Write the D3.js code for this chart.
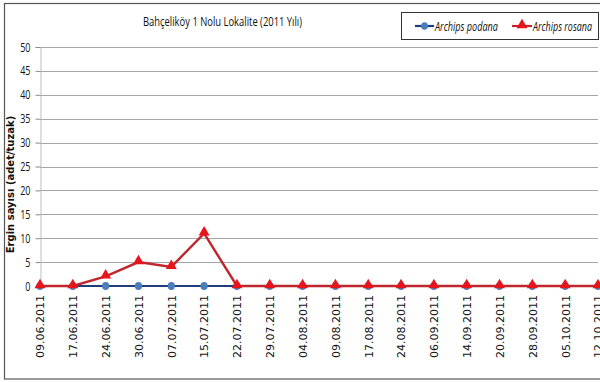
<!DOCTYPE html>
<html>
<head>
<meta charset="utf-8">
<script src="https://cdn.jsdelivr.net/npm/d3@7"></script>
<style>
  html, body { margin: 0; padding: 0; background: #fff; }
  svg { display: block; }
</style>
</head>
<body>
<svg id="chart" width="600" height="382"></svg>
<script>
// Sampling dates (trap checks) for the 2011 season
const dates = ["09.06.2011","17.06.2011","24.06.2011","30.06.2011","07.07.2011","15.07.2011",
  "22.07.2011","29.07.2011","04.08.2011","09.08.2011","17.08.2011","24.08.2011",
  "06.09.2011","14.09.2011","20.09.2011","28.09.2011","05.10.2011","12.10.2011"];
// Adult counts per trap
const podana = [0,0,0,0,0,0,0,0,0,0,0,0,0,0,0,0,0,0];
const rosana = [0,0,2,5,4,11,0,0,0,0,0,0,0,0,0,0,0,0];
const yTicks = [0,5,10,15,20,25,30,35,40,45,50];
const seriesNames = ["Archips podana", "Archips rosana"];

const svg = d3.select("#chart");
const plot = { left: 40, right: 598, top: 47, bottom: 286 };
const sans = "'Open Sans', 'DejaVu Sans', sans-serif";

// outer chart frame
svg.append("rect").attr("x", 4.5).attr("y", 3.5).attr("width", 620).attr("height", 375.5)
  .attr("fill", "#fff").attr("stroke", "#555").attr("stroke-width", 1.2);

const x = d3.scalePoint().domain(dates).range([plot.left, plot.right]).padding(0);
const y = d3.scaleLinear().domain([0, 50]).range([plot.bottom, plot.top]);

// horizontal gridlines
svg.append("g").selectAll("line").data(yTicks.filter(d => d > 0)).join("line")
  .attr("x1", plot.left).attr("x2", plot.right)
  .attr("y1", d => Math.round(y(d)) + 0.5).attr("y2", d => Math.round(y(d)) + 0.5)
  .attr("stroke", "#a6a6a6").attr("stroke-width", 1);

// y axis (condensed tick labels)
const yAxis = svg.append("g").attr("transform", `translate(${plot.left + 0.5},0)`)
  .call(d3.axisLeft(y).tickValues(yTicks).tickSize(5).tickPadding(5));
yAxis.select(".domain").attr("stroke", "#bfbfbf");
yAxis.selectAll(".tick line").attr("stroke", "#8c8c8c");
yAxis.selectAll(".tick text")
  .attr("font-family", sans).attr("font-size", 12.5).attr("fill", "#111")
  .attr("x", -10 / 0.72).attr("transform", "scale(0.72,1)");

// x axis labels, rotated
const xAxis = svg.append("g").attr("transform", `translate(0,${plot.bottom})`)
  .call(d3.axisBottom(x).tickSize(0).tickPadding(0));
xAxis.select(".domain").attr("stroke", "#8c8c8c");
xAxis.selectAll(".tick text")
  .attr("font-family", "'DejaVu Sans', sans-serif").attr("font-size", 11).attr("fill", "#111")
  .attr("transform", "rotate(-90)")
  .attr("text-anchor", "end")
  .attr("x", -9).attr("y", 0).attr("dy", "0.35em");

// y axis title
svg.append("text")
  .attr("transform", `translate(14,${(plot.top + plot.bottom) / 2 + 18}) rotate(-90)`)
  .attr("text-anchor", "middle")
  .attr("font-family", "'DejaVu Sans', sans-serif").attr("font-weight", "bold")
  .attr("font-size", 10).attr("fill", "#111")
  .text("Ergin sayısı (adet/tuzak)");

// chart title (condensed)
svg.append("text").attr("x", 143).attr("y", 26)
  .attr("font-family", sans).attr("font-size", 12.5).attr("fill", "#111")
  .attr("textLength", 159).attr("lengthAdjust", "spacingAndGlyphs")
  .text("Bahçeliköy 1 Nolu Lokalite (2011 Yılı)");

const line = d3.line().x((d, i) => x(dates[i])).y(d => y(d));

// Archips podana
svg.append("path").datum(podana).attr("d", line)
  .attr("fill", "none").attr("stroke", "#1f3d7a").attr("stroke-width", 2.2);
svg.append("g").selectAll("ellipse").data(podana).join("ellipse")
  .attr("cx", (d, i) => x(dates[i])).attr("cy", d => y(d))
  .attr("rx", 3.6).attr("ry", 4).attr("fill", "#4a7ebb");

// Archips rosana
const tri = d3.symbol().type(d3.symbolTriangle).size(52);
svg.append("path").datum(rosana).attr("d", line)
  .attr("fill", "none").attr("stroke", "#c0262d").attr("stroke-width", 2.4);
svg.append("g").selectAll("path").data(rosana).join("path")
  .attr("d", tri)
  .attr("transform", (d, i) => `translate(${x(dates[i])},${y(d) - 1})`)
  .attr("fill", "#e8141c");

// legend
const lg = svg.append("g");
lg.append("rect").attr("x", 401.5).attr("y", 12.5).attr("width", 197).attr("height", 27)
  .attr("fill", "#fff").attr("stroke", "#333").attr("stroke-width", 1);
const ly = 26;
lg.append("line").attr("x1", 415).attr("x2", 434).attr("y1", ly).attr("y2", ly)
  .attr("stroke", "#1f3d7a").attr("stroke-width", 2.2);
lg.append("ellipse").attr("cx", 424.5).attr("cy", ly).attr("rx", 3.4).attr("ry", 3.8).attr("fill", "#4a7ebb");
lg.append("text").attr("x", 435).attr("y", ly + 4.5)
  .attr("font-family", sans).attr("font-style", "italic").attr("font-size", 12.5).attr("fill", "#111")
  .attr("textLength", 63).attr("lengthAdjust", "spacingAndGlyphs")
  .text(seriesNames[0]);
lg.append("line").attr("x1", 512).attr("x2", 532).attr("y1", ly).attr("y2", ly)
  .attr("stroke", "#c0262d").attr("stroke-width", 2.2);
lg.append("path").attr("d", tri).attr("transform", `translate(522,${ly - 1})`).attr("fill", "#e8141c");
lg.append("text").attr("x", 533).attr("y", ly + 4.5)
  .attr("font-family", sans).attr("font-style", "italic").attr("font-size", 12.5).attr("fill", "#111")
  .attr("textLength", 59).attr("lengthAdjust", "spacingAndGlyphs")
  .text(seriesNames[1]);
</script>
</body>
</html>
